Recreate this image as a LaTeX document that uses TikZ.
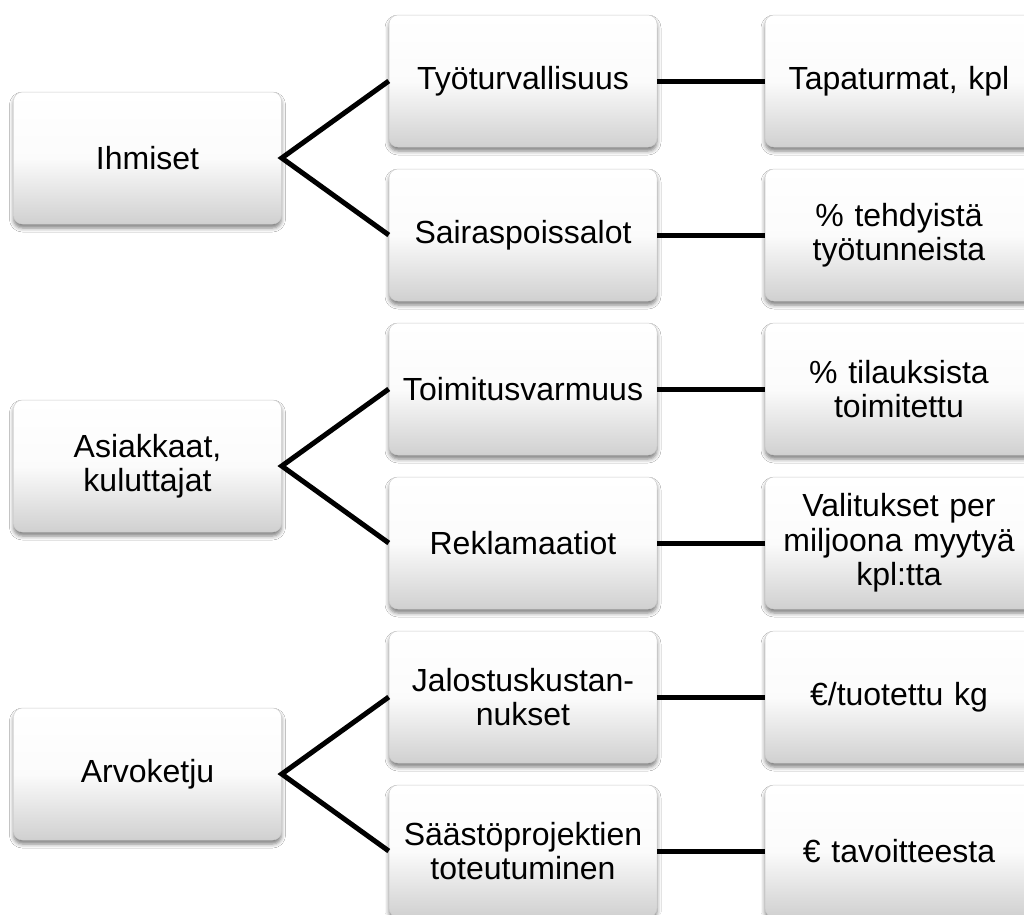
\documentclass[tikz,border=0pt]{standalone}
\usepackage{fontspec}
\setmainfont{Liberation Sans}
\usetikzlibrary{shadows.blur}
\definecolor{boxbot}{RGB}{208,208,208}
\definecolor{boxedge}{RGB}{205,205,205}
\tikzset{
  box/.style={rectangle, rounded corners=9pt, draw=boxedge, line width=0.5pt,
    top color=white, bottom color=boxbot, middle color=white!92!boxbot,
    minimum width=268pt, minimum height=132pt, inner sep=0pt,
    text width=260pt, align=center,
    font=\fontsize{32}{34.5}\selectfont,
    blur shadow={shadow xshift=0pt, shadow yshift=-4pt, shadow blur radius=4pt, shadow opacity=50}},
  link/.style={line width=5pt, black}
}
\begin{document}
\begin{tikzpicture}[x=1pt,y=-1pt]
\useasboundingbox (0,0) rectangle (1024,914);
\fill[white] (0,0) rectangle (1024,914);
% left
\node[box] (L1) at (147.5,158) {Ihmiset};
\node[box] (L2) at (147.5,466) {Asiakkaat,\\kuluttajat};
\node[box] (L3) at (147.5,774) {Arvoketju};
% middle
\node[box] (M1) at (523,81) {Työturvallisuus};
\node[box] (M2) at (523,235) {Sairaspoissalot};
\node[box] (M3) at (523,389) {Toimitusvarmuus};
\node[box] (M4) at (523,543) {Reklamaatiot};
\node[box] (M5) at (523,697) {Jalostuskustan-\\nukset};
\node[box] (M6) at (523,851) {Säästöprojektien\\toteutuminen};
% right
\node[box] (R1) at (899,81) {Tapaturmat, kpl};
\node[box] (R2) at (899,235) {\% tehdyistä\\työtunneista};
\node[box] (R3) at (899,389) {\% tilauksista\\toimitettu};
\node[box] (R4) at (899,543) {Valitukset per\\miljoona myytyä\\kpl:tta};
\node[box] (R5) at (899,697) {€/tuotettu kg};
\node[box] (R6) at (899,851) {€ tavoitteesta};
% connectors
\draw[link] (M1.west) -- (L1.east) -- (M2.west);
\draw[link] (M3.west) -- (L2.east) -- (M4.west);
\draw[link] (M5.west) -- (L3.east) -- (M6.west);
\draw[link] (M1.east) -- (R1.west);
\draw[link] (M2.east) -- (R2.west);
\draw[link] (M3.east) -- (R3.west);
\draw[link] (M4.east) -- (R4.west);
\draw[link] (M5.east) -- (R5.west);
\draw[link] (M6.east) -- (R6.west);
\end{tikzpicture}
\end{document}
